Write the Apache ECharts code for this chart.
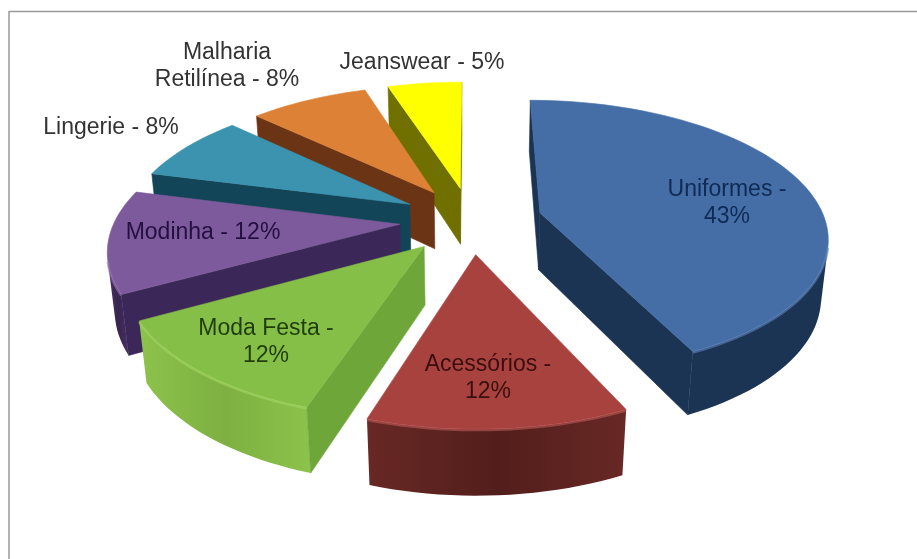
<!DOCTYPE html>
<html>
<head>
<meta charset="utf-8">
<style>
  html, body { margin: 0; padding: 0; background: #fff; }
  #chart { width: 917px; height: 559px; }
</style>
<script src="https://cdn.jsdelivr.net/npm/echarts@6/dist/echarts.min.js"></script>
</head>
<body>
<div id="chart"></div>
<script>
// Segments, clockwise from twelve o'clock
const categories = ['Uniformes', 'Acessórios', 'Moda Festa', 'Modinha', 'Lingerie', 'Malharia Retilínea', 'Jeanswear'];
const shares = [43, 12, 12, 12, 8, 8, 5];

// Wrapped label lines for each segment
const labelLines = [
  ['Uniformes -', '43%'],
  ['Acessórios -', '12%'],
  ['Moda Festa -', '12%'],
  ['Modinha - 12%'],
  ['Lingerie - 8%'],
  ['Malharia', 'Retilínea - 8%'],
  ['Jeanswear - 5%']
];

// Face colours per segment
const topColors  = ['#456ea6', '#a8423f', '#86bf47', '#7d5a9c', '#3b93b0', '#dd8136', '#ffff00'];
const sideColors = ['#1c3454', '#5a211e', '#6fa63a', '#3c2858', '#134558', '#6b3414', '#707000'];
const rimEdge    = ['#1c3454', '#682825', '#8cc34c', '#4a3268', '#134558', '#6b3414', '#707000'];
const rimMiddle  = ['#1c3454', '#521e1b', '#7db040', '#38244f', '#134558', '#6b3414', '#707000'];
const glowColors = ['#5d86bd', '#bd5a56', '#a4d666', '#9577b3', '#55a9c5', '#ec9c5a', '#ffff44'];
const labelColors = ['#0f2a55', '#3a0f0d', '#1f3d0a', '#241040', '#333333', '#333333', '#333333'];

// Label centres in page pixels, one per segment
const labelAnchors = [[727, 203], [488, 378], [266, 342], [203, 233], [111, 128], [227, 66], [422, 63]];

// Perspective camera for the exploded pie (radius 1, y pointing away)
const view = { cx: 471, cy: 220, scaleX: 285, elevation: 0.486, distance: 5.4, height: 0.232, explode: 0.25 };
const sinE = Math.sin(view.elevation);
const cosE = Math.cos(view.elevation);

function project(x, y, z) {
  const depth = 1 + (y * cosE - z * sinE) / view.distance;
  return [
    view.cx + view.scaleX * x / depth,
    view.cy - view.scaleX * (y * sinE + z * cosE) / depth
  ];
}

// Negative in page coordinates when a clockwise-wound face looks at the camera
function facesCamera(points) {
  let sum = 0;
  for (let i = 0; i < points.length; i++) {
    const a = points[i];
    const b = points[(i + 1) % points.length];
    sum += a[0] * b[1] - b[0] * a[1];
  }
  return sum < 0;
}

const total = shares.reduce((acc, v) => acc + v, 0);
const slices = [];
let running = 0;
shares.forEach((value, index) => {
  const start = running / total * Math.PI * 2;
  running += value;
  const end = running / total * Math.PI * 2;
  const mid = (start + end) / 2;
  slices.push({ index, start, end, mid, ox: Math.sin(mid) * view.explode, oy: Math.cos(mid) * view.explode });
});

// Far segments are painted first
const paintOrder = slices.slice().sort((a, b) => b.oy - a.oy);

function rimPoint(s, angle, z) {
  return project(s.ox + Math.sin(angle), s.oy + Math.cos(angle), z);
}

function polygon(points, fill, z2) {
  return { type: 'polygon', shape: { points }, style: { fill, stroke: fill, lineWidth: 0.6 }, z2 };
}

function sliceElements(s, base) {
  const i = s.index;
  const h = -view.height;
  const steps = Math.max(6, Math.round((s.end - s.start) / 0.035));
  const arcTop = [];
  const arcBottom = [];
  for (let k = 0; k <= steps; k++) {
    const a = s.start + (s.end - s.start) * k / steps;
    arcTop.push(rimPoint(s, a, 0));
    arcBottom.push(rimPoint(s, a, h));
  }
  const apexTop = project(s.ox, s.oy, 0);
  const apexBottom = project(s.ox, s.oy, h);
  const children = [];

  // Outer wall: only runs of quads that face the camera, each with a soft bevel on its upper edge
  const rimFill = new echarts.graphic.LinearGradient(0, 0, 1, 0, [
    { offset: 0, color: rimEdge[i] },
    { offset: 0.5, color: rimMiddle[i] },
    { offset: 1, color: rimEdge[i] }
  ]);
  let run = null;
  const flush = () => {
    if (run) {
      const pts = run.top.concat(run.bottom.slice().reverse());
      children.push({ type: 'polygon', shape: { points: pts }, style: { fill: rimFill }, z2: base + 1 });
      children.push({
        type: 'polyline',
        shape: { points: run.top.map(p => [p[0], p[1] + 1]) },
        style: { fill: null, stroke: glowColors[i], lineWidth: 2.5, opacity: 0.6 },
        z2: base + 4
      });
      run = null;
    }
  };
  for (let k = 0; k < steps; k++) {
    const quad = [arcTop[k], arcTop[k + 1], arcBottom[k + 1], arcBottom[k]];
    if (facesCamera(quad)) {
      if (!run) run = { top: [arcTop[k]], bottom: [arcBottom[k]] };
      run.top.push(arcTop[k + 1]);
      run.bottom.push(arcBottom[k + 1]);
    } else {
      flush();
    }
  }
  flush();

  // Radial walls
  const wallA = [apexTop, arcTop[0], arcBottom[0], apexBottom];
  const wallB = [arcTop[steps], apexTop, apexBottom, arcBottom[steps]];
  if (facesCamera(wallA)) children.push(polygon(wallA, sideColors[i], base + 2));
  if (facesCamera(wallB)) children.push(polygon(wallB, sideColors[i], base + 2));

  // Top face
  children.push(polygon([apexTop].concat(arcTop), topColors[i], base + 3));
  return children;
}

const labelFont = 'Liberation Sans, Arial, sans-serif';
const labelSize = 23;
const lineGap = 26.5;

const chart = echarts.init(document.getElementById('chart'), null, { renderer: 'canvas' });
chart.setOption({
  backgroundColor: '#ffffff',
  animation: false,
  graphic: [
    { type: 'line', shape: { x1: 9, y1: 11.5, x2: 917, y2: 11.5 }, style: { stroke: '#9a9a9a', lineWidth: 1.5 }, silent: true },
    { type: 'line', shape: { x1: 9, y1: 11, x2: 9, y2: 559 }, style: { stroke: '#9a9a9a', lineWidth: 1.5 }, silent: true }
  ],
  series: [
    {
      type: 'custom',
      coordinateSystem: 'none',
      silent: true,
      data: paintOrder.map(s => [s.index, shares[s.index]]),
      renderItem: (params) => {
        const s = paintOrder[params.dataIndex];
        return { type: 'group', children: sliceElements(s, params.dataIndex * 10) };
      }
    },
    {
      type: 'custom',
      coordinateSystem: 'none',
      silent: true,
      z: 5,
      data: categories.map((name, i) => [i, name]),
      renderItem: (params) => {
        const i = params.dataIndex;
        const lines = labelLines[i];
        const [ax, ay] = labelAnchors[i];
        return {
          type: 'group',
          children: lines.map((line, n) => ({
            type: 'text',
            x: ax,
            y: ay + (n - (lines.length - 1) / 2) * lineGap,
            style: {
              text: line,
              fill: labelColors[i],
              font: labelSize + 'px ' + labelFont,
              textAlign: 'center',
              textVerticalAlign: 'middle'
            },
            z2: 200
          }))
        };
      }
    }
  ]
});
</script>
</body>
</html>
